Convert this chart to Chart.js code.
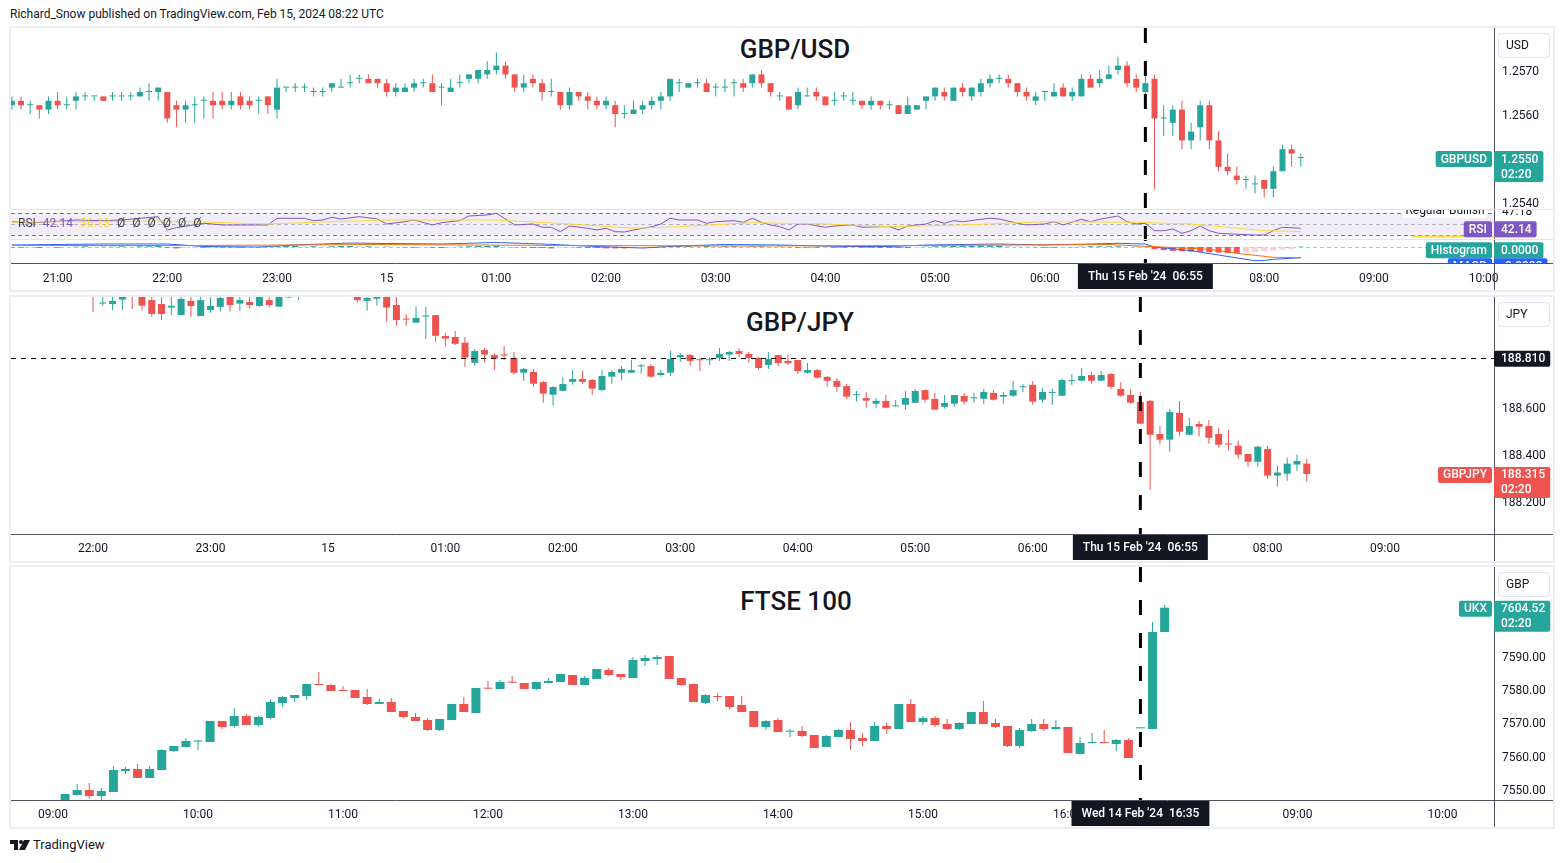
<!DOCTYPE html>
<html>
<head>
<meta charset="utf-8">
<script src="https://cdn.jsdelivr.net/npm/chart.js@4.4.1/dist/chart.umd.min.js"></script>
<style>
  html, body { margin: 0; padding: 0; background: #fff; width: 1564px; height: 863px; overflow: hidden;
    font-family: Roboto, "Noto Sans", "DejaVu Sans", sans-serif; color: #131722; }
  .hdr { position: absolute; left: 10px; top: 6px; font-size: 12px; line-height: 16px; }
  .panel { position: absolute; left: 9px; width: 1542px; border: 2px solid #eceef2; }
  .panel canvas { position: absolute; left: 0; }
  .sep { position: absolute; left: 0; width: 1542px; height: 1px; background: #e0e3eb; }
  .title { position: absolute; width: 400px; text-align: center; font-size: 26px; font-weight: 500;
    line-height: 30px; color: #131722; }
  .foot { position: absolute; left: 10px; top: 837px; height: 16px; font-size: 13px; line-height: 16px; }
  .foot svg { position: absolute; left: 0; top: 3px; }
  .foot span { position: absolute; left: 23px; top: 0; white-space: nowrap; }
</style>
</head>
<body>
<div class="hdr">Richard_Snow published on TradingView.com, Feb 15, 2024 08:22 UTC</div>

<div class="panel" style="top:26px;height:262px">
  <div class="title" style="left:584px;top:6px">GBP/USD</div>
  <canvas id="usdMain" width="1542" height="181" style="top:0"></canvas>
  <div class="sep" style="top:181px"></div>
  <canvas id="usdRsi" width="1542" height="29" style="top:182px"></canvas>
  <div class="sep" style="top:211px"></div>
  <canvas id="usdMacd" width="1542" height="50" style="top:212px"></canvas>
</div>

<div class="panel" style="top:295px;height:264px">
  <div class="title" style="left:589px;top:10px">GBP/JPY</div>
  <canvas id="jpy" width="1542" height="264" style="top:0"></canvas>
</div>

<div class="panel" style="top:565px;height:260px">
  <div class="title" style="left:585px;top:19px">FTSE 100</div>
  <canvas id="ftse" width="1542" height="260" style="top:0"></canvas>
</div>

<div class="foot">
  <svg width="20" height="10" viewBox="0 0 20 10"><path d="M0 0h8v10H4V4H0z" fill="#131722"/><circle cx="11" cy="2" r="2" fill="#131722"/><path d="M14 0h6l-5 10H9z" fill="#131722"/></svg>
  <span>TradingView</span>
</div>

<script>
const FONT = 'Roboto, "Noto Sans", "DejaVu Sans", sans-serif';
Chart.defaults.font.family = FONT;
Chart.defaults.font.size = 12;
Chart.defaults.color = '#131722';

const UP = '#26a69a';
const DOWN = '#ef5350';

// ---------- GBP/USD 5m (index 0 = 20:35, index 124 = 06:55) ----------
const usdOpen = [
  1.2562,1.2563,1.2562,1.2562,1.2561,1.2563,1.2562,1.2563,1.2564,1.2564,
  1.2564,1.2564,1.2564,1.2564,1.2564,1.2565,1.2565,1.2565,1.2562,1.2561,
  1.2562,1.2563,1.2563,1.2563,1.2562,1.2564,1.2563,1.2563,1.2564,1.2561,
  1.2566,1.2566,1.2566,1.2565,1.2565,1.2566,1.2566,1.2567,1.2568,1.2568,
  1.2568,1.2567,1.2565,1.2565,1.2566,1.2567,1.2567,1.2566,1.2565,1.2567,
  1.2568,1.2568,1.2569,1.2570,1.2571,1.2569,1.2566,1.2568,1.2567,1.2565,
  1.2565,1.2562,1.2565,1.2564,1.2563,1.2562,1.2562,1.2560,1.2560,1.2561,
  1.2562,1.2563,1.2564,1.2567,1.2566,1.2567,1.2567,1.2566,1.2566,1.2567,
  1.2567,1.2567,1.2569,1.2567,1.2564,1.2564,1.2562,1.2564,1.2565,1.2564,
  1.2563,1.2564,1.2563,1.2563,1.2562,1.2563,1.2562,1.2562,1.2560,1.2561,
  1.2563,1.2564,1.2565,1.2563,1.2566,1.2564,1.2565,1.2567,1.2568,1.2568,
  1.2567,1.2565,1.2563,1.2565,1.2564,1.2566,1.2564,1.2564,1.2568,1.2567,
  1.2568,1.2570,1.2571,1.2568,1.2565,1.2568,1.2559,1.2558,1.2561,1.2554,
  1.2557,1.2562,1.2554,1.2548,1.2546,1.2545,1.2544,1.2545,1.2543,1.2547,
  1.2552,1.2550
];
const usdHigh = [
  1.2564,1.2564,1.2563,1.2562,1.2564,1.2565,1.2564,1.2565,1.2565,1.2564,
  1.2564,1.2565,1.2565,1.2565,1.2566,1.2567,1.2566,1.2565,1.2563,1.2563,
  1.2564,1.2564,1.2565,1.2565,1.2565,1.2565,1.2564,1.2564,1.2564,1.2568,
  1.2566,1.2567,1.2567,1.2566,1.2566,1.2567,1.2568,1.2569,1.2569,1.2569,
  1.2568,1.2568,1.2567,1.2567,1.2568,1.2568,1.2569,1.2567,1.2568,1.2569,
  1.2569,1.2570,1.2572,1.2574,1.2572,1.2569,1.2569,1.2569,1.2568,1.2568,
  1.2565,1.2566,1.2565,1.2565,1.2564,1.2564,1.2563,1.2562,1.2563,1.2563,
  1.2564,1.2565,1.2568,1.2568,1.2567,1.2568,1.2568,1.2567,1.2568,1.2568,
  1.2568,1.2569,1.2570,1.2567,1.2565,1.2564,1.2566,1.2566,1.2566,1.2564,
  1.2565,1.2565,1.2565,1.2563,1.2564,1.2563,1.2563,1.2562,1.2564,1.2562,
  1.2564,1.2566,1.2566,1.2566,1.2567,1.2566,1.2568,1.2569,1.2569,1.2569,
  1.2567,1.2566,1.2565,1.2565,1.2567,1.2567,1.2566,1.2569,1.2569,1.2570,
  1.2571,1.2573,1.2572,1.2569,1.2569,1.2569,1.2562,1.2562,1.2563,1.2558,
  1.2563,1.2563,1.2556,1.2551,1.2548,1.2546,1.2546,1.2545,1.2548,1.2553,
  1.2553,1.2551
];
const usdLow = [
  1.2561,1.2561,1.2560,1.2559,1.2560,1.2561,1.2561,1.2561,1.2563,1.2563,
  1.2563,1.2563,1.2563,1.2563,1.2564,1.2563,1.2563,1.2558,1.2557,1.2558,
  1.2558,1.2559,1.2559,1.2561,1.2561,1.2561,1.2561,1.2560,1.2560,1.2559,
  1.2565,1.2565,1.2565,1.2564,1.2564,1.2565,1.2566,1.2566,1.2567,1.2567,
  1.2566,1.2564,1.2564,1.2565,1.2565,1.2566,1.2565,1.2562,1.2565,1.2566,
  1.2567,1.2567,1.2568,1.2569,1.2568,1.2565,1.2565,1.2566,1.2563,1.2564,
  1.2561,1.2561,1.2563,1.2561,1.2561,1.2561,1.2557,1.2559,1.2560,1.2560,
  1.2561,1.2561,1.2563,1.2565,1.2566,1.2566,1.2565,1.2564,1.2565,1.2564,
  1.2565,1.2566,1.2566,1.2564,1.2563,1.2561,1.2561,1.2564,1.2563,1.2562,
  1.2562,1.2563,1.2562,1.2561,1.2561,1.2561,1.2561,1.2560,1.2560,1.2561,
  1.2561,1.2563,1.2563,1.2563,1.2564,1.2563,1.2564,1.2566,1.2567,1.2566,
  1.2564,1.2563,1.2562,1.2563,1.2564,1.2564,1.2563,1.2564,1.2566,1.2566,
  1.2568,1.2569,1.2566,1.2565,1.2564,1.2543,1.2555,1.2555,1.2552,1.2552,
  1.2554,1.2552,1.2547,1.2546,1.2544,1.2543,1.2542,1.2541,1.2541,1.2547,
  1.2548,1.2548
];
const usdClose = [
  1.2563,1.2562,1.2562,1.2561,1.2563,1.2562,1.2562,1.2564,1.2564,1.2564,
  1.2563,1.2564,1.2564,1.2564,1.2565,1.2565,1.2566,1.2559,1.2561,1.2562,
  1.2562,1.2563,1.2562,1.2562,1.2563,1.2562,1.2562,1.2563,1.2562,1.2566,
  1.2566,1.2566,1.2566,1.2565,1.2565,1.2567,1.2566,1.2567,1.2568,1.2567,
  1.2567,1.2565,1.2566,1.2566,1.2567,1.2567,1.2565,1.2566,1.2566,1.2567,
  1.2569,1.2570,1.2570,1.2571,1.2569,1.2566,1.2567,1.2567,1.2565,1.2565,
  1.2562,1.2565,1.2564,1.2563,1.2562,1.2563,1.2560,1.2560,1.2561,1.2562,
  1.2563,1.2564,1.2568,1.2567,1.2567,1.2567,1.2565,1.2566,1.2566,1.2567,
  1.2566,1.2569,1.2567,1.2565,1.2564,1.2561,1.2565,1.2564,1.2564,1.2562,
  1.2563,1.2564,1.2563,1.2562,1.2563,1.2562,1.2562,1.2560,1.2562,1.2562,
  1.2564,1.2566,1.2564,1.2566,1.2565,1.2566,1.2567,1.2568,1.2568,1.2567,
  1.2565,1.2564,1.2564,1.2565,1.2565,1.2564,1.2565,1.2568,1.2566,1.2568,
  1.2569,1.2571,1.2567,1.2566,1.2567,1.2559,1.2559,1.2561,1.2554,1.2556,
  1.2562,1.2554,1.2548,1.2547,1.2545,1.2545,1.2544,1.2543,1.2547,1.2552,
  1.2551,1.2550
];
const usdTickIdx = [5, 17, 29, 41, 53, 65, 77, 89, 101, 113, 125, 137, 149, 161];
const usdTickLab = ['21:00','22:00','23:00','15','01:00','02:00','03:00','04:00','05:00','06:00','07:00','08:00','09:00','10:00'];
const usdPriceTicks = [1.2540, 1.2550, 1.2560, 1.2570];

// RSI(14) and its moving average, read at candle indices
const rsiIdx = [0,2,6,7,10,12,16,17,18,21, 23,25,28,29,32,33,34,35,36,38, 40,41,43,44,46,47,49,50,52,53,
  55,57,58,59,60,61,63,64,65,66, 67,68,70,71,72,73,75,76,77,79, 80,81,82,83,84,85,86,87,89,90,
  92,93,95,96,97,98,100,101,102,103, 104,106,107,108,110,111,113,114,115,117, 118,119,121,122,123,124,125,126,127,128,
  129,130,131,132,134,136,137,138,139,141];
const rsiVal = [54.2,51.8,56.1,57.4,56.1,57.4,63.5,38.9,43.2,51.3, 48.2,48.2,48.2,60.5,60.5,56.1,57.4,62.4,59.2,63.5,
  59.2,50,54.2,57.4,48.2,52.4,56.1,64.8,66.6,69.8, 48.2,50,43.9,43.9,35.8,46.3,42.1,38.9,42.1,35.8,
  35.2,38.9,45.0,50,60.5,57.4,57.4,51.3,54.2,56.1, 53.1,60.5,53.1,48.2,45.0,38.9,50,50,43.9,46.3,
  48.2,43.9,45.0,45.0,38.9,46.3,50,56.1,51.3,56.1, 54.2,58.7,60.5,59.2,51.3,48.2,50,54.2,48.2,58.7,
  54.2,58.7,64.8,54.2,50,51.3,37.6,37.6,40.8,32.8, 37.6,46.3,37.6,32.8,31.0,29.7,29.7,37.6,43.9,42.14];
const rsiMaIdx = [0, 6, 17, 28, 35, 41, 53, 61, 68, 73, 81, 89, 96, 104, 113, 123, 129, 133, 137, 141];
const rsiMaVal = [53.1, 54.2, 55.5, 50, 54.2, 57.4, 57.4, 50, 42.1, 45, 52.4, 50, 45, 48.2, 54.2, 53.1, 50, 43.9, 37.6, 36.13];

// MACD(12,26,9)
const macdIdx = [0,10,17,21,27,31,37,41,47,53,58,64,69,73,78,84,91,96,100,108,113,118,121,124,125,129,132,136,137,138,141];
const macdVal = [0.000057,0.000086,0.000086,0.000014,0,0.000057,0.000114,0.0001,0.000086,0.000129,
  0.000086,0.000014,-0.000029,0.000029,0.000071,0.000057,0.000014,0.000014,0.000057,0.000086,
  0.000057,0.000086,0.000106,0.000086,0,-0.000106,-0.000229,-0.000392,-0.000386,-0.000352,-0.000306];
const signalIdx = [0, 20, 40, 60, 80, 100, 120, 125, 131, 134, 138, 141];
const signalVal = [0.000043,0.000043,0.000071,0.000043,0.000029,0.000043,0.000071,0.000009,-0.000066,-0.00018,-0.000295,-0.000306];
const histVal = [
  -0.00002,-0.00002,-0.00001,-0.00003,-0.00002,-0.00002,-0.00001,0.00001,0.00002,0.00001,
  0.00001,0.00001,0.00002,0.00001,0.00002,0.00002,0.00003,-0.00002,-0.00004,-0.00003,
  -0.00002,-0.00002,-0.00001,-0.00001,-0.00001,-0.00002,-0.00001,-0.00001,0.00001,0.00002,
  0.00003,0.00003,0.00002,0.00002,0.00001,0.00002,0.00003,0.00003,0.00002,0.00002,
  0.00001,0.00001,0,-0.00001,-0.00002,-0.00001,-0.00002,-0.00003,-0.00002,0.00001,
  0.00002,0.00003,0.00003,0.00004,0.00001,-0.00001,-0.00002,-0.00003,-0.00003,-0.00004,
  -0.00003,-0.00002,-0.00002,-0.00003,-0.00003,-0.00004,-0.00004,-0.00004,-0.00003,-0.00002,
  -0.00001,0.00001,0.00002,0.00003,0.00004,0.00003,0.00003,0.00002,0.00002,0.00002,
  0.00001,0.00002,0.00002,0.00001,0.00001,-0.00001,-0.00002,-0.00002,-0.00002,-0.00001,
  -0.00002,-0.00002,-0.00001,-0.00002,-0.00002,-0.00003,-0.00003,-0.00003,-0.00003,-0.00002,
  0.00001,0.00002,0.00002,0.00003,0.00003,0.00003,0.00004,0.00004,0.00004,0.00003,
  0.00002,0.00001,-0.00001,-0.00002,-0.00002,-0.00001,-0.00001,0.00001,0.00002,0.00002,
  0.00002,0.00002,0.00001,0.00001,0.00001,-0.00006,-0.00009,-0.00011,-0.00012,-0.00013,
  -0.00014,-0.00015,-0.00016,-0.00017,-0.00017,-0.00015,-0.00014,-0.00012,-0.00010,-0.00008,
  -0.00006,0.00001
];

// ---------- GBP/JPY 5m (index 0 = 22:00, index 107 = 06:55) ----------
const jpyOpen = [
  189.106,189.040,189.038,189.057,189.089,189.081,189.055,189.038,189.023,188.991,
  189.051,188.987,189.013,189.026,189.072,189.040,189.047,189.030,189.055,189.027,
  189.066,189.081,189.085,189.095,189.110,189.100,189.090,189.081,189.052,189.061,
  189.077,189.034,188.974,188.959,188.985,188.991,188.902,188.898,188.874,188.788,
  188.843,188.821,188.821,188.809,188.746,188.749,188.706,188.652,188.669,188.707,
  188.719,188.715,188.672,188.729,188.746,188.746,188.773,188.774,188.736,188.746,
  188.813,188.821,188.801,188.799,188.809,188.823,188.838,188.826,188.809,188.779,
  188.821,188.796,188.800,188.746,188.757,188.728,188.711,188.689,188.650,188.638,
  188.614,188.626,188.603,188.610,188.618,188.672,188.634,188.601,188.614,188.647,
  188.637,188.635,188.660,188.644,188.648,188.684,188.694,188.631,188.660,188.648,
  188.710,188.712,188.736,188.712,188.740,188.677,188.651,188.621,188.626,188.485,
  188.461,188.575,188.482,188.528,188.519,188.485,188.442,188.435,188.400,188.367,
  188.421,188.308,188.316,188.355,188.359
];
const jpyHigh = [
  189.119,189.081,189.077,189.089,189.098,189.089,189.072,189.072,189.072,189.072,
  189.072,189.072,189.072,189.072,189.077,189.072,189.072,189.077,189.072,189.077,
  189.094,189.098,189.105,189.120,189.125,189.115,189.100,189.089,189.077,189.081,
  189.085,189.072,188.996,189.027,189.027,188.991,188.916,188.923,188.898,188.847,
  188.851,188.830,188.860,188.834,188.766,188.762,188.712,188.689,188.726,188.757,
  188.753,188.719,188.757,188.757,188.774,188.800,188.783,188.783,188.757,188.838,
  188.830,188.826,188.809,188.813,188.851,188.838,188.851,188.834,188.813,188.834,
  188.821,188.821,188.800,188.787,188.762,188.732,188.723,188.698,188.668,188.664,
  188.638,188.651,188.630,188.668,188.677,188.672,188.660,188.651,188.651,188.660,
  188.660,188.677,188.672,188.664,188.711,188.698,188.711,188.681,188.677,188.719,
  188.740,188.766,188.749,188.753,188.745,188.706,188.677,188.664,188.630,188.519,
  188.592,188.626,188.553,188.540,188.545,188.511,188.502,188.457,188.400,188.435,
  188.435,188.350,188.384,188.397,188.380
];
const jpyLow = [
  189.004,189.031,189.013,189.013,189.017,189.010,188.984,188.970,188.991,188.991,
  188.984,188.987,189.001,189.006,189.006,189.010,189.018,189.027,189.023,189.027,
  189.064,189.055,189.075,189.085,189.090,189.080,189.072,189.044,189.010,189.031,
  188.963,188.946,188.946,188.959,188.889,188.878,188.857,188.864,188.771,188.774,
  188.788,188.757,188.800,188.737,188.712,188.686,188.618,188.606,188.669,188.695,
  188.699,188.652,188.668,188.699,188.716,188.746,188.742,188.725,188.729,188.733,
  188.791,188.774,188.753,188.779,188.796,188.796,188.813,188.788,188.757,188.762,
  188.774,188.779,188.740,188.742,188.720,188.686,188.665,188.635,188.623,188.597,
  188.597,188.597,188.601,188.589,188.618,188.618,188.589,188.593,188.601,188.610,
  188.618,188.614,188.627,188.614,188.644,188.664,188.610,188.618,188.610,188.648,
  188.694,188.712,188.699,188.712,188.677,188.644,188.614,188.529,188.248,188.440,
  188.410,188.478,188.482,188.474,188.444,188.427,188.414,188.380,188.346,188.346,
  188.295,188.261,188.286,188.329,188.282
];
const jpyClose = [
  189.077,189.042,189.051,189.081,189.068,189.031,188.996,188.996,189.031,189.060,
  189.030,189.055,189.030,189.064,189.034,189.055,189.034,189.072,189.034,189.072,
  189.085,189.089,189.095,189.110,189.100,189.090,189.085,189.055,189.064,189.072,
  189.023,188.970,188.972,188.979,188.989,188.903,188.891,188.869,188.810,188.838,
  188.823,188.806,188.819,188.746,188.762,188.699,188.657,188.685,188.698,188.719,
  188.707,188.678,188.732,188.749,188.762,188.757,188.775,188.729,188.745,188.804,
  188.821,188.796,188.799,188.801,188.826,188.834,188.826,188.809,188.766,188.804,
  188.787,188.786,188.753,188.757,188.725,188.712,188.686,188.644,188.652,188.627,
  188.626,188.597,188.605,188.638,188.668,188.631,188.589,188.617,188.651,188.623,
  188.639,188.664,188.631,188.651,188.672,188.686,188.623,188.664,188.662,188.715,
  188.712,188.732,188.712,188.736,188.686,188.648,188.618,188.529,188.482,188.461,
  188.579,188.495,188.519,188.516,188.469,188.440,188.440,188.397,188.367,188.431,
  188.308,188.321,188.359,188.370,188.315
];
const jpyLevel = 188.810;
const jpyTickIdx = [0, 12, 24, 36, 48, 60, 72, 84, 96, 108, 120, 132];
const jpyTickLab = ['22:00','23:00','15','01:00','02:00','03:00','04:00','05:00','06:00','07:00','08:00','09:00'];
const jpyPriceTicks = [188.2, 188.4, 188.6, 188.8, 189.0];

// ---------- FTSE 100 5m (index 0 = 09:00 Wed, index 90 = 16:35, index 91 = 08:00 Thu) ----------
const ftseStart = 1;
const ftseOpen = [
  7546.09,7548.20,7549.70,7547.89,7549.10,7555.41,7556.02,7553.31,7555.71,7561.43,
  7562.63,7564.29,7564.14,7570.45,7568.95,7571.95,7569.25,7571.35,7575.87,7577.37,
  7577.97,7581.58,7581.28,7579.77,7579.77,7577.67,7575.56,7576.17,7573.46,7571.65,
  7570.75,7567.74,7570.75,7575.56,7572.86,7580.38,7580.08,7582.18,7581.88,7580.08,
  7581.88,7582.18,7584.29,7581.28,7583.08,7585.79,7584.59,7583.38,7588.50,7589.10,
  7590.00,7583.38,7581.58,7575.87,7577.97,7577.97,7575.26,7573.46,7568.65,7570.75,
  7567.23,7567.44,7566.24,7562.63,7565.64,7567.74,7565.34,7564.44,7568.95,7568.05,
  7575.56,7570.15,7571.35,7569.55,7568.05,7569.55,7573.16,7569.85,7568.95,7562.93,
  7567.44,7569.55,7568.05,7568.65,7560.53,7563.83,7564.14,7563.53,7564.74,7568.25,
  7568.05,7597.22
];
const ftseHigh = [
  7548.50,7551.50,7551.80,7550.30,7556.92,7556.62,7557.52,7556.92,7562.03,7562.93,
  7565.34,7564.74,7570.45,7570.45,7574.36,7572.56,7571.95,7577.07,7577.97,7578.27,
  7581.58,7585.19,7581.58,7580.98,7579.77,7580.08,7577.07,7577.37,7573.46,7572.86,
  7571.35,7571.05,7575.56,7577.67,7580.38,7582.48,7582.78,7583.98,7581.88,7582.18,
  7583.38,7584.59,7584.29,7583.98,7586.09,7586.39,7584.59,7589.70,7590.30,7590.30,
  7590.00,7583.38,7581.58,7578.57,7578.87,7577.97,7577.97,7573.46,7570.75,7571.35,
  7568.05,7568.95,7566.24,7566.24,7568.05,7570.15,7566.84,7570.15,7569.85,7575.56,
  7577.07,7571.95,7571.95,7571.05,7570.15,7573.16,7576.47,7571.05,7568.95,7568.35,
  7571.05,7571.05,7570.75,7568.65,7565.64,7566.84,7567.74,7565.04,7565.34,7568.45,
  7600.23,7605.34
];
const ftseLow = [
  7545.19,7547.99,7546.99,7546.69,7549.10,7554.51,7553.31,7553.31,7555.71,7561.13,
  7562.63,7561.73,7564.14,7568.05,7568.35,7569.25,7568.65,7571.05,7574.66,7576.17,
  7576.77,7581.28,7579.47,7579.47,7577.37,7575.26,7575.56,7573.16,7571.35,7570.45,
  7567.44,7567.44,7570.75,7573.16,7572.86,7580.17,7580.08,7581.97,7580.08,7579.77,
  7581.88,7582.18,7581.28,7581.28,7583.08,7583.98,7582.78,7583.38,7586.99,7587.29,
  7583.08,7580.98,7576.17,7575.56,7576.47,7574.06,7573.16,7568.65,7567.74,7567.14,
  7565.64,7565.64,7562.33,7562.63,7565.64,7561.73,7562.93,7564.44,7566.54,7568.05,
  7570.15,7569.25,7568.65,7567.74,7567.74,7569.55,7569.55,7568.35,7562.63,7562.33,
  7567.14,7567.44,7567.74,7560.83,7560.53,7563.83,7563.83,7561.43,7559.32,7568.25,
  7568.05,7597.22
];
const ftseClose = [
  7548.50,7549.70,7547.89,7549.40,7555.71,7556.02,7553.31,7556.02,7561.73,7562.93,
  7564.44,7564.59,7570.45,7568.65,7571.95,7569.25,7571.65,7576.17,7577.67,7578.27,
  7581.58,7581.28,7579.47,7579.47,7577.37,7575.56,7576.17,7573.16,7571.65,7570.45,
  7567.74,7571.05,7575.56,7573.16,7580.38,7580.17,7582.18,7581.97,7580.08,7582.18,
  7582.48,7584.59,7581.28,7583.38,7586.09,7584.29,7583.68,7588.80,7589.40,7589.70,
  7583.08,7581.28,7576.17,7578.27,7577.67,7574.66,7573.16,7568.65,7570.45,7567.14,
  7567.44,7565.94,7562.33,7565.94,7567.74,7565.04,7564.44,7568.95,7568.05,7575.56,
  7570.15,7571.35,7569.25,7568.05,7569.85,7573.16,7569.55,7568.65,7562.93,7567.74,
  7569.55,7568.05,7568.65,7560.83,7563.83,7564.14,7563.83,7564.74,7559.32,7568.45,
  7597.22,7604.52
];
const ftseTickIdx = [0, 12, 24, 36, 48, 60, 72, 84, 103, 115];
const ftseTickLab = ['09:00','10:00','11:00','12:00','13:00','14:00','15:00','16:00','09:00','10:00'];
const ftsePriceTicks = [7550, 7560, 7570, 7580, 7590, 7600, 7610];

// ---------- helpers ----------
function candles(o, h, l, c, first, w) {
  const col = c.map((v, i) => v >= o[i] ? UP : DOWN);
  return [
    { type: 'bar', order: 2, grouped: false, barThickness: 1, inflateAmount: 0, backgroundColor: col,
      data: l.map((v, i) => ({ x: first + i, y: [v, h[i]] })) },
    { type: 'bar', order: 1, grouped: false, barThickness: w, minBarLength: 1, inflateAmount: 0, backgroundColor: col,
      data: o.map((v, i) => ({ x: first + i, y: [v, c[i]] })) }
  ];
}

function line(idx, vals, color) {
  return { type: 'line', order: 1, data: idx.map((x, i) => ({ x, y: vals[i] })),
    borderColor: color, borderWidth: 1, pointRadius: 0, tension: 0 };
}

function xAxis(min, max, tickIdx, tickLab, pad) {
  const show = !!tickIdx;
  return {
    type: 'linear', min, max, offset: false, display: show,
    grid: { display: false, drawTicks: false }, border: { display: false },
    ticks: { autoSkip: false, maxRotation: 0, minRotation: 0, padding: pad, color: '#131722',
      callback: (v, i) => (tickLab ? tickLab[i] : '') },
    afterBuildTicks: s => { if (tickIdx) s.ticks = tickIdx.map(v => ({ value: v })); },
    afterFit: s => { if (show) s.height = 27; s.paddingLeft = 0; s.paddingRight = 0; }
  };
}

function yAxis(min, max, ticks, digits) {
  return {
    position: 'right', min, max, beginAtZero: false,
    grid: { display: false, drawTicks: false }, border: { display: false },
    ticks: { display: ticks.length > 0, padding: 8, labelOffset: 2, color: '#131722',
      callback: v => Number(v).toFixed(digits) },
    afterBuildTicks: s => { s.ticks = ticks.map(v => ({ value: v })); },
    afterFit: s => { s.width = 59; s.paddingTop = 0; s.paddingBottom = 0; }
  };
}

function opts(x, y) {
  return {
    responsive: false, animation: false, events: [], layout: { padding: 0 },
    plugins: { legend: { display: false }, tooltip: { enabled: false } },
    scales: { x, y }
  };
}

function rbox(ctx, x, y, w, h, r) {
  ctx.beginPath();
  if (ctx.roundRect) ctx.roundRect(x, y, w, h, r); else ctx.rect(x, y, w, h);
}

function hline(ctx, a, y, h) {
  y = Math.round(y) + 0.5;
  ctx.setLineDash(h.dash || []);
  ctx.strokeStyle = h.color;
  ctx.lineWidth = 1;
  ctx.beginPath(); ctx.moveTo(a.left, y); ctx.lineTo(a.right, y); ctx.stroke();
}

// TradingView-ish overlays: bands, level lines, event marker, axis tags
function deco(cfg) {
  return {
    id: 'deco',
    beforeDatasetsDraw(chart) {
      const { ctx, chartArea: a, scales } = chart;
      ctx.save();
      ctx.beginPath(); ctx.rect(a.left, a.top, a.right - a.left, a.bottom - a.top); ctx.clip();
      (cfg.bands || []).forEach(b => {
        const y1 = scales.y.getPixelForValue(b.from), y2 = scales.y.getPixelForValue(b.to);
        ctx.fillStyle = b.color;
        ctx.fillRect(a.left, y1, a.right - a.left, y2 - y1);
      });
      (cfg.hlines || []).forEach(h => hline(ctx, a, scales.y.getPixelForValue(h.value), h));
      ctx.restore();
    },
    afterDatasetsDraw(chart) {
      const { ctx, chartArea: a, scales } = chart;
      const W = chart.width, H = chart.height;
      const tagFont = '500 12px ' + FONT;
      ctx.save();
      ctx.font = '12px ' + FONT;
      ctx.textBaseline = 'middle';

      ctx.save();
      ctx.beginPath(); ctx.rect(a.left, a.top, a.right - a.left, a.bottom - a.top); ctx.clip();
      (cfg.topLines || []).forEach(h => hline(ctx, a, scales.y.getPixelForValue(h.value), h));
      if (cfg.mark != null) {
        const x = scales.x.getPixelForValue(cfg.mark);
        ctx.setLineDash([15, 18]);
        ctx.lineDashOffset = cfg.shift || 0;
        ctx.strokeStyle = '#000';
        ctx.lineWidth = 3;
        ctx.beginPath(); ctx.moveTo(x, a.top); ctx.lineTo(x, a.bottom); ctx.stroke();
      }
      ctx.restore();

      // axis frame
      ctx.setLineDash([]);
      ctx.strokeStyle = '#50535e';
      ctx.lineWidth = 1;
      const xr = Math.round(a.right) + 0.5;
      ctx.beginPath(); ctx.moveTo(xr, 0); ctx.lineTo(xr, H); ctx.stroke();
      if (cfg.axis) {
        const yb = Math.round(a.bottom) + 0.5;
        ctx.beginPath(); ctx.moveTo(0, yb); ctx.lineTo(W, yb); ctx.stroke();
      }

      // legend / notes
      if (cfg.legend) {
        let x = cfg.legend.x;
        ctx.textAlign = 'left';
        cfg.legend.parts.forEach(p => {
          ctx.fillStyle = p[1];
          ctx.fillText(p[0], x, cfg.legend.y);
          x += ctx.measureText(p[0]).width + 7;
        });
      }
      (cfg.notes || []).forEach(n => {
        if (n.bg) { ctx.fillStyle = n.bg; ctx.fillRect(n.x, n.y - 7, n.w, 14); }
        ctx.fillStyle = n.color;
        ctx.textAlign = n.bg ? 'center' : 'left';
        ctx.fillText(n.text, n.bg ? n.x + n.w / 2 : n.x, n.y);
      });
      (cfg.marks || []).forEach(m => {
        const y = Math.round(scales.y.getPixelForValue(m.value)) + 0.5;
        ctx.strokeStyle = m.color;
        ctx.lineWidth = 2;
        ctx.beginPath(); ctx.moveTo(m.x1, y); ctx.lineTo(m.x2, y); ctx.stroke();
      });

      // price tags on the right axis
      ctx.save();
      ctx.font = tagFont;
      ctx.beginPath(); ctx.rect(0, 0, W, a.bottom); ctx.clip();
      (cfg.tags || []).forEach(t => {
        const y = scales.y.getPixelForValue(t.value) + (t.dy || 0);
        const top = y - 7;
        const h = t.lines.length > 1 ? 31 : 16;
        const w = Math.max(...t.lines.map(s => ctx.measureText(s).width)) + 12;
        ctx.fillStyle = t.bg;
        rbox(ctx, a.right, top, w, h, 2); ctx.fill();
        ctx.fillStyle = '#fff';
        ctx.textAlign = 'left';
        t.lines.forEach((s, i) => ctx.fillText(s, a.right + 7, top + 8.5 + i * 15));
        if (t.name) {
          const nw = ctx.measureText(t.name).width + 10;
          ctx.fillStyle = t.bg;
          rbox(ctx, a.right - 2 - nw, top, nw, 16, 2); ctx.fill();
          ctx.fillStyle = '#fff';
          ctx.textAlign = 'center';
          ctx.fillText(t.name, a.right - 2 - nw / 2, top + 8.5);
        }
      });
      ctx.restore();

      // currency button
      if (cfg.currency) {
        ctx.fillStyle = '#fff';
        ctx.strokeStyle = '#e0e3eb';
        rbox(ctx, a.right + 4.5, a.top + 5.5, 51, 24, 4); ctx.fill(); ctx.stroke();
        ctx.fillStyle = '#131722';
        ctx.textAlign = 'left';
        ctx.fillText(cfg.currency, a.right + 12, a.top + 18);
      }

      // time label of the event marker
      if (cfg.timeBox) {
        ctx.font = tagFont;
        const x = scales.x.getPixelForValue(cfg.timeBox.idx);
        const w = ctx.measureText(cfg.timeBox.text).width + 20;
        ctx.fillStyle = '#131722';
        ctx.fillRect(x - w / 2, a.bottom + 1, w, H - a.bottom - 2);
        ctx.fillStyle = '#fff';
        ctx.textAlign = 'center';
        ctx.fillText(cfg.timeBox.text, x, (a.bottom + H) / 2 + 0.5);
      }
      ctx.restore();
    }
  };
}

const usdStamp = "Thu 15 Feb '24  06:55";
const usdLast = usdClose.length - 1;

// ---------- GBP/USD price pane ----------
new Chart(document.getElementById('usdMain'), {
  type: 'bar',
  data: { datasets: candles(usdOpen, usdHigh, usdLow, usdClose, 0, 6) },
  options: opts(xAxis(-0.1, 162.14, null, null, 0), yAxis(1.253841, 1.257955, usdPriceTicks, 4)),
  plugins: [deco({
    mark: 124, shift: 0, currency: 'USD',
    tags: [{ value: usdClose[usdLast], lines: [usdClose[usdLast].toFixed(4), '02:20'], name: 'GBPUSD', bg: UP }]
  })]
});

// ---------- RSI pane ----------
const rsiLast = rsiVal[rsiVal.length - 1];
const rsiMaLast = rsiMaVal[rsiMaVal.length - 1];
new Chart(document.getElementById('usdRsi'), {
  type: 'line',
  data: { datasets: [line(rsiMaIdx, rsiMaVal, '#fdd835'), line(rsiIdx, rsiVal, '#7e57c2')] },
  options: opts(xAxis(-0.1, 162.14, null, null, 0), yAxis(22.3, 75.8, [], 2)),
  plugins: [deco({
    mark: 124, shift: 182,
    bands: [{ from: 70, to: 30, color: 'rgba(126,87,194,0.1)' }],
    hlines: [
      { value: 70, color: '#787b86', dash: [4, 3] },
      { value: 50, color: 'rgba(120,123,134,0.5)', dash: [4, 3] },
      { value: 30, color: '#787b86', dash: [4, 3] }
    ],
    legend: { x: 7, y: 14, parts: [['RSI', '#434651'], [rsiLast.toFixed(2), '#7e57c2'],
      [rsiMaLast.toFixed(2), '#fdd835'], ['Ø', '#434651'], ['Ø', '#434651'], ['Ø', '#434651'],
      ['Ø', '#434651'], ['Ø', '#434651'], ['Ø', '#434651']] },
    notes: [
      { x: 1392, y: 1, w: 84, text: 'Regular Bullish', color: '#131722', bg: '#fff' },
      { x: 1491, y: 2, text: '47.18', color: '#131722' }
    ],
    marks: [{ value: rsiMaLast - 7.5, x1: 1402, x2: 1524, color: '#fdd835' }],
    tags: [{ value: rsiLast, lines: [rsiLast.toFixed(2)], name: 'RSI', bg: '#7e57c2' }]
  })]
});

// ---------- MACD pane with the time axis ----------
const histColors = histVal.map((v, i) => {
  const prev = i ? histVal[i - 1] : v;
  if (v >= 0) return v >= prev ? '#26a69a' : '#b2dfdb';
  return v <= prev ? '#ff5252' : '#ffcdd2';
});
new Chart(document.getElementById('usdMacd'), {
  type: 'bar',
  data: { datasets: [
    { type: 'bar', order: 3, grouped: false, barThickness: 6, inflateAmount: 0, backgroundColor: histColors,
      data: histVal.map((v, i) => ({ x: i, y: v })) },
    line(signalIdx, signalVal, '#ff6d00'),
    line(macdIdx, macdVal, '#2962ff')
  ] },
  options: opts(xAxis(-0.1, 162.14, usdTickIdx, usdTickLab, 9), yAxis(-0.000457, 0.0002, [], 4)),
  plugins: [deco({
    mark: 124, shift: 212, axis: true,
    hlines: [{ value: 0, color: 'rgba(120,123,134,0.5)', dash: [4, 3] }],
    tags: [
      { value: histVal[histVal.length - 1], dy: 2.5, lines: [histVal[histVal.length - 1].toFixed(4)], name: 'Histogram', bg: UP },
      { value: macdVal[macdVal.length - 1], dy: 7.5, lines: [macdVal[macdVal.length - 1].toFixed(4)], name: 'MACD', bg: '#2962ff' }
    ],
    timeBox: { idx: 124, text: usdStamp }
  })]
});

// ---------- GBP/JPY ----------
const jpyLast = jpyClose.length - 1;
new Chart(document.getElementById('jpy'), {
  type: 'bar',
  data: { datasets: candles(jpyOpen, jpyHigh, jpyLow, jpyClose, 0, 7) },
  options: opts(xAxis(-8.38, 143.13, jpyTickIdx, jpyTickLab, 8), yAxis(188.0596, 189.0681, jpyPriceTicks, 3)),
  plugins: [deco({
    mark: 107, axis: true, currency: 'JPY',
    topLines: [{ value: jpyLevel, color: '#000', dash: [5, 5] }],
    tags: [
      { value: jpyLevel, lines: [jpyLevel.toFixed(3)], bg: '#131722' },
      { value: jpyClose[jpyLast], lines: [jpyClose[jpyLast].toFixed(3), '02:20'], name: 'GBPJPY', bg: DOWN }
    ],
    timeBox: { idx: 107, text: "Thu 15 Feb '24  06:55" }
  })]
});

// ---------- FTSE 100 ----------
const ftseLast = ftseClose.length - 1;
new Chart(document.getElementById('ftse'), {
  type: 'bar',
  data: { datasets: candles(ftseOpen, ftseHigh, ftseLow, ftseClose, ftseStart, 9) },
  options: opts(xAxis(-3.476, 119.26, ftseTickIdx, ftseTickLab, 8), yAxis(7546.69, 7616.77, ftsePriceTicks, 2)),
  plugins: [deco({
    mark: 90, axis: true, currency: 'GBP',
    tags: [{ value: ftseClose[ftseLast], lines: [ftseClose[ftseLast].toFixed(2), '02:20'], name: 'UKX', bg: UP }],
    timeBox: { idx: 90, text: "Wed 14 Feb '24  16:35" }
  })]
});
</script>
</body>
</html>
